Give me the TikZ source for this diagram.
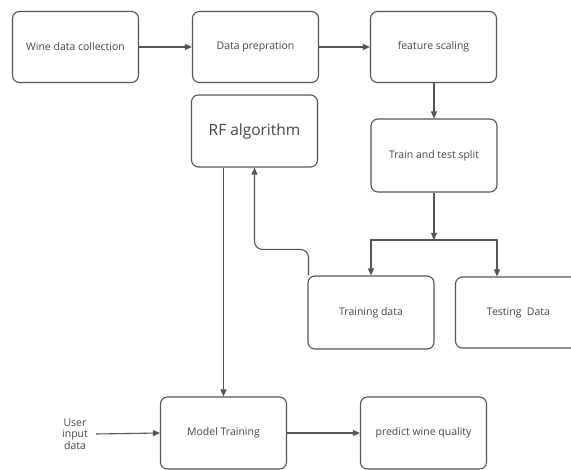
\documentclass[tikz,border=0pt]{standalone}
\usepackage{fontspec}
\setmainfont{Open Sans}
\definecolor{lineaGris}{RGB}{85,85,85}
\definecolor{textoGris}{RGB}{70,70,70}
\usepackage{tikz}
\usetikzlibrary{arrows.meta, positioning, calc}

\begin{document}
\begin{tikzpicture}[x=1pt, y=-1pt,
    caja/.style={draw=lineaGris, line width=1.1pt, rounded corners=7pt, fill=white,
                 minimum width=126pt, minimum height=71pt, text=textoGris,
                 font=\fontsize{10.5}{12}\selectfont, inner sep=2pt},
    flecha/.style={draw=lineaGris, line width=1.1pt, -{Triangle[length=7pt,width=6pt]}}]
  \useasboundingbox (0,0) rectangle (571,470);
  \clip (0,0) rectangle (571,470);

  % Fila superior
  \node[caja] (coleccion) at (75.5,47) {Wine data collection};
  \node[caja] (preparacion) at (255.5,47) {Data prepration};
  \node[caja] (escalado) at (433.5,47) {feature scaling};

  % Algoritmo y division
  \node[caja, font=\fontsize{15.5}{17}\selectfont, minimum height=72pt] (rf) at (254.5,131) {RF algorithm};
  \node[caja, minimum height=73pt] (division) at (434,155.5) {Train and test split};

  % Datos de entrenamiento y prueba
  \node[caja, minimum height=73pt] (entreno) at (371,312.5) {Training data};
  \node[caja] (prueba) at (518.5,312.5) {Testing~~Data};

  % Fila inferior
  \node[caja, minimum height=72pt] (modelo) at (223.5,433) {Model Training};
  \node[caja, minimum height=72pt] (prediccion) at (423.5,433) {predict wine quality};
  \node[text=textoGris, font=\fontsize{10.5}{11.5}\selectfont, align=center,
        inner sep=2pt] (usuario) at (75,434) {User\\input\\data};

  % Conectores
  \draw[flecha] (coleccion) -- (preparacion);
  \draw[flecha] (preparacion) -- (escalado);
  \draw[flecha] (escalado.south -| division.north) -- (division.north);
  \coordinate (union) at (434,240);
  \draw[flecha] (division) -- (union);
  \draw[flecha] (union) -| (entreno.north);
  \draw[flecha] (union) -| ([xshift=-21.5pt]prueba.north);
  \draw[flecha, rounded corners=8pt] ([xshift=1pt]entreno.north west) -- ++(0,-26) -| (rf.south);
  \draw[flecha] (rf.south -| modelo.north) -- (modelo.north);
  \draw[flecha] ([xshift=6pt]usuario.east) -- (modelo.west);
  \draw[flecha] (modelo) -- (prediccion);
\end{tikzpicture}
\end{document}
